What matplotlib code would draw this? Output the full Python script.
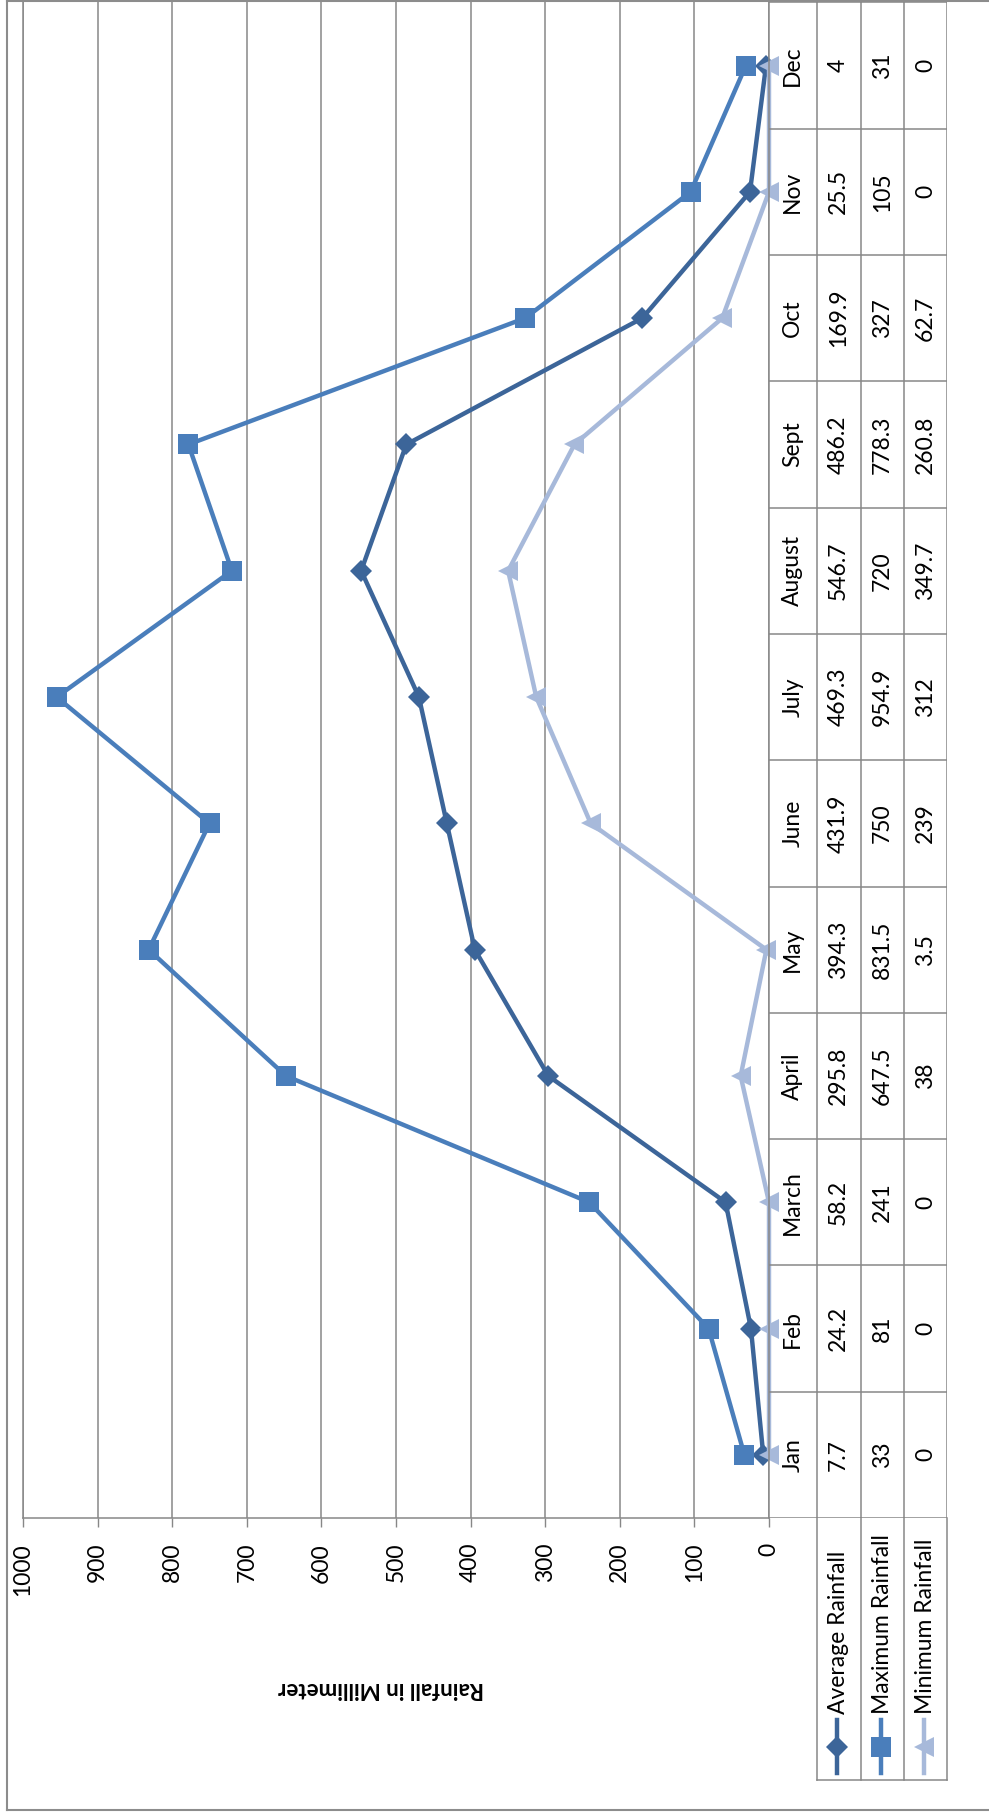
import numpy as np
import matplotlib
matplotlib.use("Agg")
import matplotlib.pyplot as plt
from matplotlib.lines import Line2D

plt.rcParams['font.family'] = ['Lato', 'DejaVu Sans']

# Monthly rainfall (mm)
months = ['Jan', 'Feb', 'March', 'April', 'May', 'June', 'July',
          'August', 'Sept', 'Oct', 'Nov', 'Dec']
avg_rain = [7.7, 24.2, 58.2, 295.8, 394.3, 431.9, 469.3, 546.7, 486.2, 169.9, 25.5, 4]
max_rain = [33, 81, 241, 647.5, 831.5, 750, 954.9, 720, 778.3, 327, 105, 31]
min_rain = [0, 0, 0, 38, 3.5, 239, 312, 349.7, 260.8, 62.7, 0, 0]
avg_text = ['7.7', '24.2', '58.2', '295.8', '394.3', '431.9', '469.3', '546.7', '486.2', '169.9', '25.5', '4']
max_text = ['33', '81', '241', '647.5', '831.5', '750', '954.9', '720', '778.3', '327', '105', '31']
min_text = ['0', '0', '0', '38', '3.5', '239', '312', '349.7', '260.8', '62.7', '0', '0']
series_names = ['Average Rainfall', 'Maximum Rainfall', 'Minimum Rainfall']
value_ticks = list(range(0, 1001, 100))

C_AVG = '#3C6599'
C_MAX = '#4A7EBB'
C_MIN = '#A7B9DA'
GRID = '#878787'
FS = 16.5

W, H = 989, 1816
fig = plt.figure(figsize=(W / 100, H / 100), dpi=100)


def box(x0, y0, x1, y1):
    """Figure-fraction rectangle from pixel edges (y measured from the top)."""
    return [x0 / W, 1 - y1 / H, (x1 - x0) / W, (y1 - y0) / H]


PLOT_L, PLOT_R, PLOT_T, PLOT_B = 23, 769, 2.4, 1518
TAB_R = 946.7
COLS = [769, 816.7, 860.7, 904.3, 946.7]

# ---- main plot: value axis runs horizontally, months stacked vertically
ax = fig.add_axes(box(PLOT_L, PLOT_T, PLOT_R, PLOT_B))
pos = np.arange(len(months))
styles = [
    dict(color=C_AVG, marker='D', ms=11.2),
    dict(color=C_MAX, marker='s', ms=14.5),
    dict(color=C_MIN, marker='<', ms=14),
]
for vals, st in zip([avg_rain, max_rain, min_rain], styles):
    ax.plot(vals, pos, color=st['color'], lw=3.2, marker=st['marker'],
            ms=st['ms'], mec=st['color'], mfc=st['color'], mew=0,
            solid_joinstyle='round', clip_on=False)

ax.set_xlim(1000, 0)
ax.set_ylim(-0.5, len(months) - 0.5)
ax.set_xticks(value_ticks)
ax.set_xticklabels([str(v) for v in value_ticks], rotation=90, fontsize=FS)
ax.tick_params(axis='x', direction='out', length=6.5, width=1, color=GRID, pad=11.5)
ax.set_yticks([])
ax.grid(axis='x', color=GRID, lw=1.1)
ax.set_axisbelow(True)
ax.spines['top'].set_visible(False)
for side in ['left', 'right', 'bottom']:
    ax.spines[side].set_color(GRID)
    ax.spines[side].set_linewidth(1.1)

# ---- data table beside the category axis
tab = fig.add_axes(box(COLS[0], PLOT_T, TAB_R, PLOT_B))
tab.set_xlim(COLS[0], TAB_R)
tab.set_ylim(ax.get_ylim())
tab.axis('off')
for k in range(len(months) + 1):
    tab.axhline(k - 0.5, color=GRID, lw=1.1)
for cx in COLS[1:]:
    tab.axvline(cx, color=GRID, lw=1.1)
centers = [(COLS[i] + COLS[i + 1]) / 2 for i in range(4)]
for i in range(len(months)):
    for cx, txt in zip(centers, [months[i], avg_text[i], max_text[i], min_text[i]]):
        tab.text(cx, i, txt, rotation=90, ha='center', va='center', fontsize=FS)

# ---- overlay in pixel units: legend, axis title, chart border
ov = fig.add_axes([0, 0, 1, 1])
ov.set_xlim(0, W)
ov.set_ylim(H, 0)
ov.axis('off')
ov.patch.set_visible(False)

LEG_B = 1780
for cx in COLS[1:]:
    ov.add_line(Line2D([cx, cx], [PLOT_B, LEG_B], color=GRID, lw=1.1))
ov.add_line(Line2D([COLS[1], TAB_R], [LEG_B, LEG_B], color=GRID, lw=1.1))
for cx, name, st in zip(centers[1:], series_names, styles):
    ov.add_line(Line2D([cx - 2, cx - 2], [1720, 1773], color=st['color'], lw=3.2))
    ov.plot([cx - 2], [1747], marker=st['marker'], ms=st['ms'], color=st['color'], mew=0)
    ov.text(cx, 1714, name, rotation=90, ha='center', va='bottom', fontsize=FS)

ov.text(381, 1688, 'Rainfall in Millimeter', rotation=180, ha='center', va='center',
        fontsize=16, fontweight='bold')

BORDER = '#8C8C8C'
ov.add_line(Line2D([7, 7], [1, 1810], color=BORDER, lw=1.5))
ov.add_line(Line2D([7, W], [1, 1], color=BORDER, lw=1.5))
ov.add_line(Line2D([7, W], [1810, 1810], color=BORDER, lw=1.5))

fig.savefig('out.png', dpi=100, facecolor='white')
